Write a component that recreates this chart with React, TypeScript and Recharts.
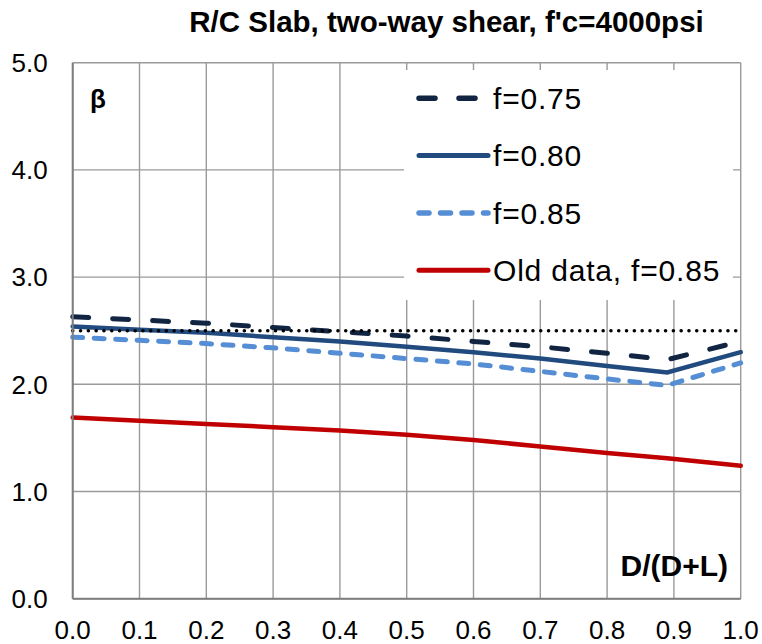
import React from 'react';
import { LineChart, Line, XAxis, YAxis, CartesianGrid, ReferenceLine } from 'recharts';

// values
const xValues = [0, 0.1, 0.2, 0.3, 0.4, 0.5, 0.6, 0.7, 0.8, 0.89, 1.0];
const f075 = [2.63, 2.6, 2.57, 2.53, 2.49, 2.45, 2.4, 2.35, 2.29, 2.23, 2.4];
const f080 = [2.54, 2.51, 2.48, 2.44, 2.4, 2.35, 2.3, 2.24, 2.17, 2.11, 2.3];
const f085 = [2.44, 2.41, 2.38, 2.34, 2.29, 2.24, 2.19, 2.12, 2.05, 1.99, 2.2];
const oldData = [1.69, 1.66, 1.63, 1.6, 1.57, 1.53, 1.48, 1.42, 1.36, 1.31, 1.24];

const xTicks = [0, 0.1, 0.2, 0.3, 0.4, 0.5, 0.6, 0.7, 0.8, 0.9, 1.0];
const yTicks = [0, 1, 2, 3, 4, 5];
const targetBeta = 2.5;

const FONT = '"Liberation Sans", Arial, sans-serif';

const series = [
  { key: 'f075', name: 'f=0.75', color: '#112542', dash: '16 24', width: 5 },
  { key: 'f080', name: 'f=0.80', color: '#214a7f', dash: undefined, width: 4.5 },
  { key: 'f085', name: 'f=0.85', color: '#558ed5', dash: '10 11.5', width: 5 },
  { key: 'old', name: 'Old data, f=0.85', color: '#c00000', dash: undefined, width: 4.5 },
];

const data = xValues.map((x, i) => ({
  x,
  f075: f075[i],
  f080: f080[i],
  f085: f085[i],
  old: oldData[i],
}));

const App: React.FC = () => {
  return (
    <div style={{ position: 'absolute', left: 0, top: 0, width: 762, height: 644, background: '#fff' }}>
      <LineChart
        width={762}
        height={644}
        data={data}
        margin={{ top: 62.7, right: 21.3, bottom: 0, left: 0 }}
      >
        <CartesianGrid stroke="#9a9a9a" strokeWidth={1.4} />
        <XAxis
          type="number"
          dataKey="x"
          domain={[0, 1]}
          ticks={xTicks}
          interval={0}
          height={45.3}
          tickFormatter={(v: number) => v.toFixed(1)}
          tick={{ fill: '#000', fontSize: 26, fontFamily: FONT }}
          tickLine={false}
          tickMargin={16}
          axisLine={{ stroke: '#7f7f7f', strokeWidth: 2 }}
        />
        <YAxis
          type="number"
          domain={[0, 5]}
          ticks={yTicks}
          interval={0}
          width={72.7}
          tickFormatter={(v: number) => v.toFixed(1)}
          tick={{ fill: '#000', fontSize: 26, fontFamily: FONT }}
          tickLine={false}
          tickMargin={19}
          axisLine={{ stroke: '#7f7f7f', strokeWidth: 2 }}
        />
        {series.map((s) => (
          <Line
            key={s.key}
            type="linear"
            dataKey={s.key}
            name={s.name}
            stroke={s.color}
            strokeWidth={s.width}
            strokeDasharray={s.dash}
            strokeLinecap="round"
            dot={false}
            activeDot={false}
            isAnimationActive={false}
          />
        ))}
        <ReferenceLine
          y={targetBeta}
          stroke="#000"
          strokeWidth={3.5}
          strokeDasharray="0.1 7.7"
          strokeLinecap="round"
        />
      </LineChart>

      {/* legend box, sits over the grid like the Excel one */}
      <div
        style={{
          position: 'absolute',
          left: 404,
          top: 70,
          width: 329,
          height: 230,
          background: '#fff',
        }}
      >
        <svg width={329} height={230}>
          {series.map((s, i) => {
            const cy = 28.3 + i * 57.3;
            return (
              <g key={s.key}>
                <line
                  x1={15}
                  x2={84}
                  y1={cy}
                  y2={cy}
                  stroke={s.color}
                  strokeWidth={s.width + 0.5}
                  strokeDasharray={s.dash}
                  strokeLinecap="round"
                />
                <text
                  x={89}
                  y={cy}
                  dy="0.36em"
                  fontSize={30}
                  letterSpacing={0.8}
                  fontFamily={FONT}
                  fill="#000"
                >
                  {s.name}
                </text>
              </g>
            );
          })}
        </svg>
      </div>

      <svg
        width={762}
        height={644}
        style={{ position: 'absolute', left: 0, top: 0, pointerEvents: 'none' }}
      >
        <text
          x={446.5}
          y={32}
          textAnchor="middle"
          fontSize={29.5}
          fontWeight="bold"
          fontFamily={FONT}
          fill="#000"
        >
          R/C Slab, two-way shear, f'c=4000psi
        </text>
        <text x={98} y={108} textAnchor="middle" fontSize={26} fontWeight="bold" fontFamily={FONT} fill="#000">
          β
        </text>
        <text x={728} y={576} textAnchor="end" fontSize={30} fontWeight="bold" fontFamily={FONT} fill="#000">
          D/(D+L)
        </text>
      </svg>
    </div>
  );
};

export default App;
